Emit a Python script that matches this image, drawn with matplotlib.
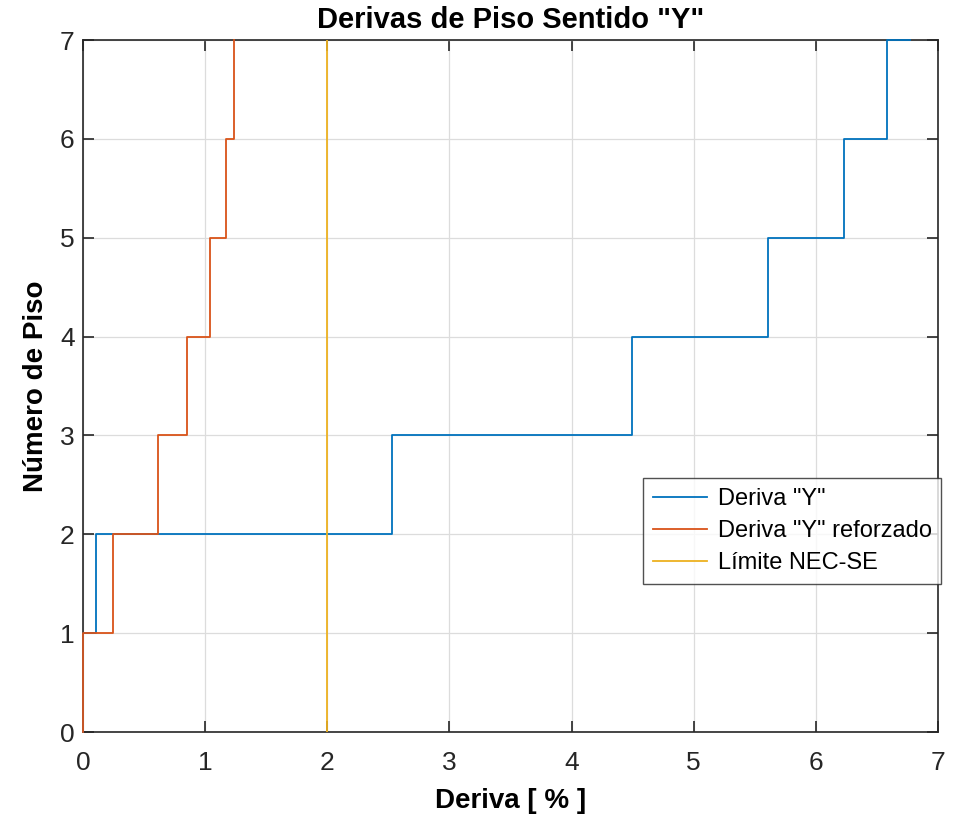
import matplotlib
matplotlib.use("Agg")
import matplotlib.pyplot as plt

# floor levels and drift values (%)
pisos = [0, 1, 2, 3, 4, 5, 6, 7]
deriva_y = [0.0, 0.109, 2.53, 4.494, 5.61, 6.23, 6.585, 6.77]
deriva_y_ref = [0.0, 0.248, 0.612, 0.852, 1.04, 1.168, 1.239, 1.239]
limite_x = [2, 2]
limite_y = [0, 7]

C_BLUE = '#0072BD'
C_RED = '#D95319'
C_YEL = '#EDB120'

plt.rcParams['font.family'] = ['Liberation Sans', 'DejaVu Sans']

fig = plt.figure(figsize=(9.62, 8.22), dpi=100)
ax = fig.add_axes([83 / 962, 1 - 732 / 822, 855 / 962, 692 / 822])

ax.step(deriva_y, pisos, where='pre', color=C_BLUE, lw=1.3, label='Deriva "Y"',
        clip_on=False, zorder=4)
ax.step(deriva_y_ref, pisos, where='pre', color=C_RED, lw=1.3, label='Deriva "Y" reforzado',
        clip_on=False, zorder=4)
ax.plot(limite_x, limite_y, color=C_YEL, lw=1.3, label='Límite NEC-SE', zorder=4)

ax.set_xlim(0, 7)
ax.set_ylim(0, 7)
ax.set_xticks(range(8))
ax.set_yticks(range(8))
ax.grid(True, color='#dcdcdc', lw=0.9)
ax.set_axisbelow(True)
ax.tick_params(direction='in', length=8, width=1.2, labelsize=19, colors='#262626',
               top=True, right=True, pad=6)
ax.tick_params(axis='x', pad=14)
for sp in ax.spines.values():
    sp.set_linewidth(1.2)
    sp.set_color('#262626')
    sp.set_zorder(3)

ax.set_title('Derivas de Piso Sentido "Y"', fontsize=21, fontweight='bold', pad=9)
ax.set_xlabel('Deriva [ % ]', fontsize=20, fontweight='bold', labelpad=9)
ax.set_ylabel('Número de Piso', fontsize=20, fontweight='bold', labelpad=8)

leg = ax.legend(loc='upper right', bbox_to_anchor=(1.004, 0.367), fontsize=17,
                frameon=True, fancybox=False, edgecolor='#262626', borderpad=0.42,
                handlelength=2.3, labelspacing=0.43, handletextpad=0.45, borderaxespad=0)
leg.get_frame().set_linewidth(1.0)
leg.set_zorder(5)
for line in leg.get_lines():
    line.set_linewidth(1.3)

fig.savefig("out.png", dpi=100)
